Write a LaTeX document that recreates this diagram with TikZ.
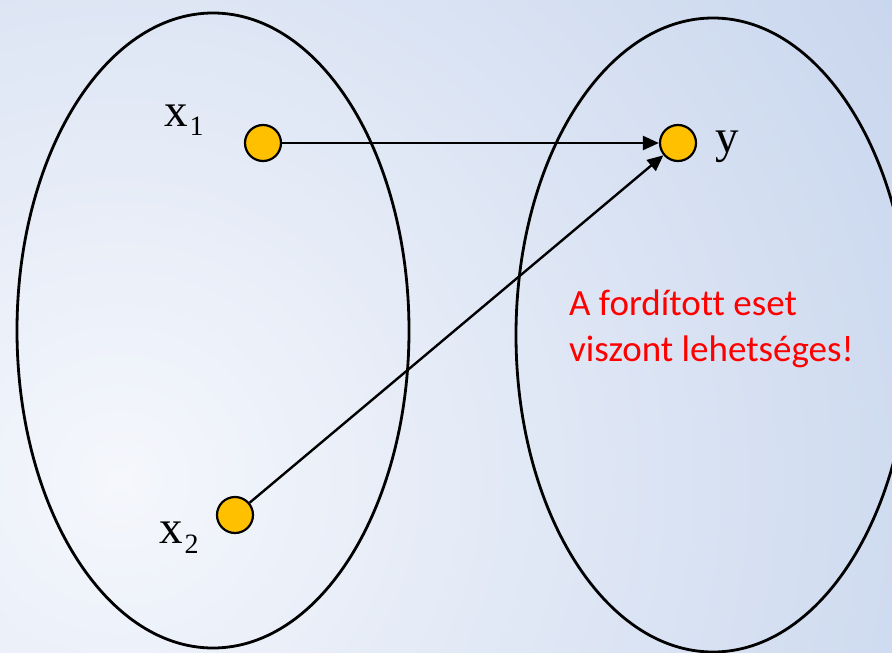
\documentclass[tikz,border=0pt]{standalone}
\usepackage{fontspec}
\newfontfamily\carl[Ligatures=NoCommon]{Carlito}
\newfontfamily\mathlbl{Liberation Serif}
\usetikzlibrary{shapes.geometric,arrows.meta}
\definecolor{bginner}{RGB}{245,247,252}
\definecolor{bgouter}{RGB}{199,213,237}
\definecolor{dotfill}{RGB}{255,192,0}
\definecolor{txtred}{RGB}{255,0,0}
\tikzset{
  setshape/.style={draw=black, line width=2.8pt, ellipse, inner sep=0pt},
  dot/.style={circle, draw=black, line width=2.2pt, fill=dotfill, minimum size=36pt, inner sep=0pt},
  conn/.style={line width=2.4pt, -{Triangle[length=16pt,width=14pt]}},
  lbl/.style={anchor=base west, inner sep=0pt, font=\mathlbl\fontsize{47}{50}\selectfont},
  note/.style={anchor=base west, inner sep=0pt, text=txtred, font=\carl\fontsize{37}{46}\selectfont, align=left}
}
\begin{document}
\begin{tikzpicture}[x=1pt,y=-1pt]
\useasboundingbox (0,0) rectangle (892,653);
\begin{scope}
\clip (0,0) rectangle (892,653);
\shade[inner color=bginner, outer color=bgouter] (120,480) circle (950);
\node[setshape, minimum width=392pt, minimum height=635pt] (A) at (213,330.5) {};
\node[setshape, minimum width=394pt, minimum height=634pt] (B) at (713,335) {};
\end{scope}
\node[dot] (x1) at (263,143) {};
\node[dot] (x2) at (235,515) {};
\node[dot] (y) at (678,143) {};
\node[lbl] (lx1) at (164,126) {x\kern2pt\raisebox{-9pt}{\fontsize{28}{30}\selectfont 1}};
\node[lbl] (lx2) at (159,543) {x\kern2pt\raisebox{-10pt}{\fontsize{28}{30}\selectfont 2}};
\node[lbl] (ly) at (715,152) {y};
\node[note] (txt) at (569,361) {A fordított eset\\viszont lehetséges!};
\draw[conn] (x1) -- (y);
\draw[conn] (x2) -- (y);
\end{tikzpicture}
\end{document}
